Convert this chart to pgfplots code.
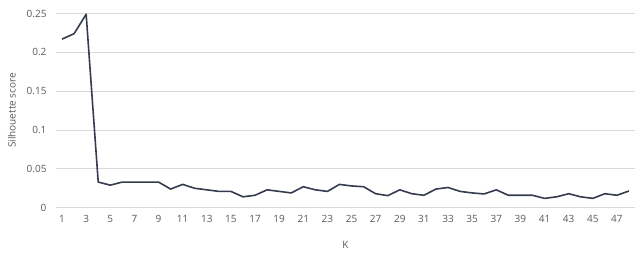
\documentclass[border=0pt]{standalone}
\usepackage{pgfplots}
\pgfplotsset{compat=1.18}
\usepackage{fontspec}
\setmainfont{Open Sans}
\definecolor{tickgray}{RGB}{89,89,89}
\definecolor{gridgray}{RGB}{217,217,217}
\definecolor{linecol}{RGB}{52,60,78}
\begin{document}
\begin{tikzpicture}[x=1pt,y=1pt]
\begin{axis}[
  at={(0,0)}, anchor=south west,
  scale only axis,
  width=579pt, height=194.2pt,
  xmin=0.5, xmax=48.5,
  ymin=0, ymax=0.25,
  xtick={1,3,...,47},
  ytick={0,0.05,0.1,0.15,0.2,0.25},
  yticklabels={0,0.05,0.1,0.15,0.2,0.25},
  axis line style={draw=none},
  tick style={draw=none},
  ymajorgrids,
  grid style={gridgray, line width=0.8pt},
  tick label style={font=\fontsize{10}{12}\selectfont, text=tickgray},
  /pgf/number format/assume math mode=true,
  xticklabel style={yshift=-4pt},
  yticklabel style={xshift=-6pt},
  xlabel={K},
  ylabel={Silhouette score},
  label style={font=\fontsize{10}{12}\selectfont, text=tickgray},
  xlabel style={yshift=-12pt},
  ylabel style={yshift=4pt},
  clip=false,
]
\addplot[linecol, line width=1.6pt, line join=round] coordinates {
(1,0.217)(2,0.224)(3,0.249)(4,0.033)(5,0.029)(6,0.033)(7,0.033)(8,0.033)
(9,0.033)(10,0.024)(11,0.030)(12,0.025)(13,0.023)(14,0.021)(15,0.021)(16,0.014)
(17,0.016)(18,0.023)(19,0.021)(20,0.019)(21,0.027)(22,0.023)(23,0.021)(24,0.030)
(25,0.028)(26,0.027)(27,0.018)(28,0.0155)(29,0.023)(30,0.018)(31,0.016)(32,0.024)
(33,0.026)(34,0.021)(35,0.019)(36,0.0177)(37,0.023)(38,0.016)(39,0.016)(40,0.016)
(41,0.012)(42,0.014)(43,0.018)(44,0.014)(45,0.012)(46,0.018)(47,0.016)(48,0.0215)
};
\end{axis}
\useasboundingbox (-56,-48.3) rectangle (584,207.7);
\end{tikzpicture}
\end{document}
